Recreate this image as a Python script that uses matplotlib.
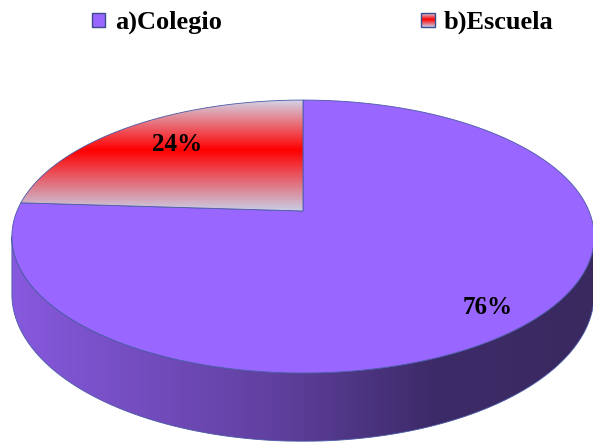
import numpy as np
import matplotlib
matplotlib.use("Agg")
import matplotlib.pyplot as plt
from matplotlib.patches import Polygon, Rectangle
from matplotlib.colors import LinearSegmentedColormap

# datos del gráfico
categorias = ["a)Colegio", "b)Escuela"]
porcentajes = [76, 24]
etiquetas = ["76%", "24%"]

# colores de cada sector
color_cara = ["#9966ff", None]
grad_rojo = LinearSegmentedColormap.from_list(
    "rojo", [(0.0, "#d3d3e6"), (0.45, "#ff0000"), (1.0, "#c9cee6")])
grad_lado = LinearSegmentedColormap.from_list(
    "lado", [(0.0, "#8759de"), (0.45, "#60409f"), (0.72, "#3d2b69"), (1.0, "#39295f")])
borde = "#4a5aa6"

# geometria del pastel en perspectiva (pixeles)
X0, Y0 = 303, 211
A, B, K = 286, 131.7, 0.187
H = 55.5


def proyectar(theta, r=1.0, caida=0.0):
    th = np.radians(theta)
    X = r * np.sin(th)
    t = -r * np.cos(th)
    s = 1.0 / (1.0 - K * t)
    return X0 + A * X * s, Y0 + B * t * s + caida * s


def poligono_sector(a0, a1):
    th = np.linspace(a0, a1, 200)
    x, y = proyectar(th)
    x = np.concatenate([[X0], x])
    y = np.concatenate([[Y0], y])
    return np.column_stack([x, y])


def relleno_gradiente(ax, poly, cmap, vertical=True, rango=None, z=2):
    xmin, ymin = poly.min(axis=0)
    xmax, ymax = poly.max(axis=0)
    if rango is not None:
        xmin, xmax = rango
    g = np.linspace(0, 1, 256)
    img = g[:, None] if vertical else g[None, :]
    im = ax.imshow(img, cmap=cmap, extent=(xmin, xmax, ymax, ymin),
                   aspect="auto", origin="upper", zorder=z, interpolation="bilinear")
    im.set_clip_path(Polygon(poly, closed=True, transform=ax.transData))
    ax.add_patch(Polygon(poly, closed=True, fill=False, edgecolor=borde, lw=0.6, zorder=z + 1))


fig = plt.figure(figsize=(5.93, 4.42), dpi=100)
ax = fig.add_axes([0, 0, 1, 1])
ax.set_xlim(0, 593)
ax.set_ylim(442, 0)
ax.axis("off")

angulos = np.concatenate([[0], np.cumsum(porcentajes) / sum(porcentajes) * 360])

# bordes visibles del lateral
muestras = np.linspace(0, 360, 3601)
xs, _ = proyectar(muestras)
th_der = muestras[np.argmax(xs)]
th_izq = muestras[np.argmin(xs)]
x_min_pie, x_max_pie = xs.min(), xs.max()

# lateral del cilindro
for i in range(len(porcentajes)):
    a0 = max(angulos[i], th_der)
    a1 = min(angulos[i + 1], th_izq)
    if a1 <= a0:
        continue
    th = np.linspace(a0, a1, 200)
    xt, yt = proyectar(th)
    xb, yb = proyectar(th[::-1], caida=H)
    lado = np.column_stack([np.concatenate([xt, xb]), np.concatenate([yt, yb])])
    relleno_gradiente(ax, lado, grad_lado, vertical=False, rango=(x_min_pie, x_max_pie))

# cara superior
for i in range(len(porcentajes)):
    poly = poligono_sector(angulos[i], angulos[i + 1])
    if color_cara[i] is not None:
        ax.add_patch(Polygon(poly, closed=True, facecolor=color_cara[i],
                             edgecolor=borde, lw=0.6, zorder=4))
    else:
        relleno_gradiente(ax, poly, grad_rojo, vertical=True, z=4)

# etiquetas de porcentaje
radio_etq = [0.86, 0.74]
fuente = ["Liberation Serif", "DejaVu Serif"]
for i, etq in enumerate(etiquetas):
    medio = (angulos[i] + angulos[i + 1]) / 2 + 2
    x, y = proyectar(medio, r=radio_etq[i])
    ax.text(x, y, etq, ha="center", va="center", fontsize=18,
            fontweight="bold", family=fuente, zorder=6)

# leyenda
pos_leyenda = [92, 421]
for i, cat in enumerate(categorias):
    x = pos_leyenda[i]
    if color_cara[i] is not None:
        ax.add_patch(Rectangle((x, 13), 13, 14, facecolor=color_cara[i],
                               edgecolor="#3b4c8c", lw=1.0, zorder=6))
    else:
        g = np.linspace(0, 1, 64)[:, None]
        ax.imshow(g, cmap=grad_rojo, extent=(x, x + 14, 27, 13), aspect="auto",
                  origin="upper", zorder=6)
        ax.add_patch(Rectangle((x, 13), 14, 14, fill=False,
                               edgecolor="#3b4c8c", lw=1.0, zorder=7))
    ax.text(x + 23, 29, cat, ha="left", va="baseline", fontsize=19,
            fontweight="bold", family=fuente, zorder=7)

ax.set_xlim(0, 593)
ax.set_ylim(442, 0)
fig.savefig("out.png", dpi=100)
